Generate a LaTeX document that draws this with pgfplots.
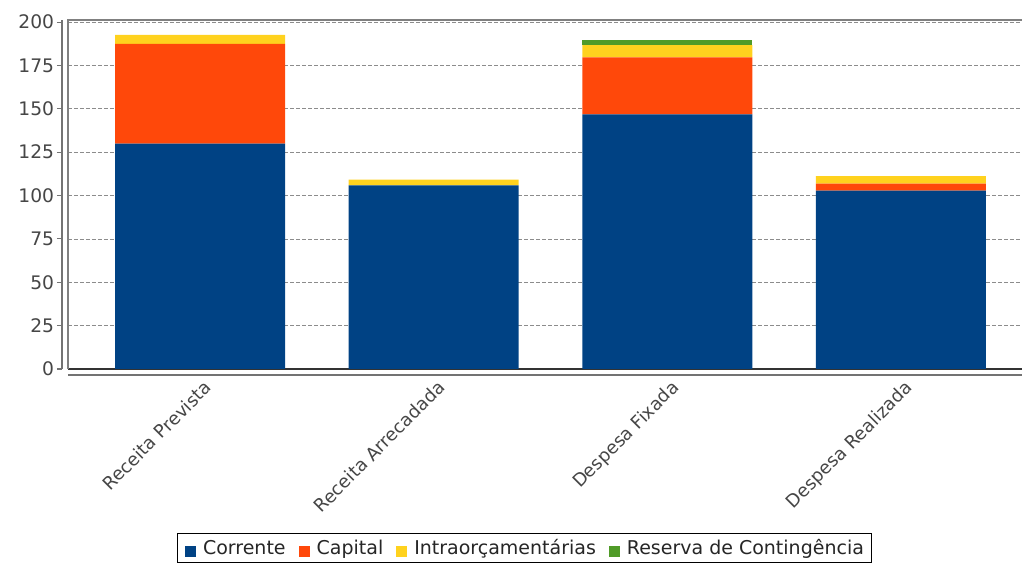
\documentclass[border=0pt]{standalone}
\usepackage{pgfplots}
\pgfplotsset{compat=1.18}
\usepackage{fontspec}
\setmainfont{DejaVu Sans}
\definecolor{corr}{RGB}{0,66,132}
\definecolor{cap}{RGB}{255,72,10}
\definecolor{intra}{RGB}{255,210,30}
\definecolor{res}{RGB}{80,155,40}
\definecolor{txt}{RGB}{70,70,70}
\begin{document}
\begin{tikzpicture}[x=0.75pt,y=0.75pt]
\begin{axis}[
  scale only axis, width=715.5pt, height=261.75pt,
  xmin=-0.565, xmax=3.518, ymin=0, ymax=201.2,
  ybar stacked, bar width=0.7275,
  axis x line*=bottom, axis y line*=left,
  axis x line shift=4.5pt, axis y line shift=4.5pt,
  axis line style={draw=black!55, line width=0.8pt, -},
  ytick={0,25,...,200},
  xtick={0,1,2,3},
  xticklabels={Receita Prevista,Receita Arrecadada,Despesa Fixada,Despesa Realizada},
  x tick style={draw=none},
  y tick style={draw=black!55, line width=0.8pt},
  tick align=outside, major tick length=3.75pt,
  /pgf/number format/assume math mode=true,
  yticklabel style={font=\fontsize{14}{16}\selectfont, text=txt, inner sep=2pt},
  xticklabel style={font=\fontsize{13.5}{16}\selectfont, text=txt, rotate=45, anchor=north east, inner sep=1pt, xshift=3pt},
  ymajorgrids, major grid style={draw=black!45, dash pattern=on 3pt off 1.5pt, line width=0.6pt},
  legend style={at={(0.4785,-0.4699)}, anchor=north, legend columns=-1, draw=black, line width=0.6pt,
    font=\fontsize{14.25}{16}\selectfont, text=black!85, inner xsep=5.6pt, inner ysep=2pt,
    nodes={inner xsep=0pt, inner ysep=2.5pt},
    /tikz/every odd column/.append style={column sep=5.25pt},
    /tikz/every even column/.append style={column sep=9.75pt}},
  legend image code/.code={\fill[#1] (0pt,-6.5pt) rectangle (8.25pt,1.75pt);},
  clip=false,
]
\coordinate (O) at (rel axis cs:0,0);
\addplot[fill=corr, draw=none] coordinates {(0,130) (1,105.8) (2,146.8) (3,102.9)};
\addplot[fill=cap, draw=none] coordinates {(0,57.4) (1,0) (2,32.8) (3,3.9)};
\addplot[fill=intra, draw=none] coordinates {(0,5.2) (1,3.4) (2,7.1) (3,4.4)};
\addplot[fill=res, draw=none] coordinates {(0,0) (1,0) (2,2.9) (3,0)};
\legend{Corrente,Capital,Intraorçamentárias,Reserva de Contingência}
\draw[black!50, line width=0.8pt] (rel axis cs:0,0) -- (rel axis cs:0,1) -- (rel axis cs:1,1);
\draw[black!80, line width=0.9pt] (rel axis cs:0,0) -- (rel axis cs:1,0);
\end{axis}
\pgfresetboundingbox
\path[use as bounding box] (O) ++(-68,-194) rectangle ++(1022,563);
\end{tikzpicture}
\end{document}
